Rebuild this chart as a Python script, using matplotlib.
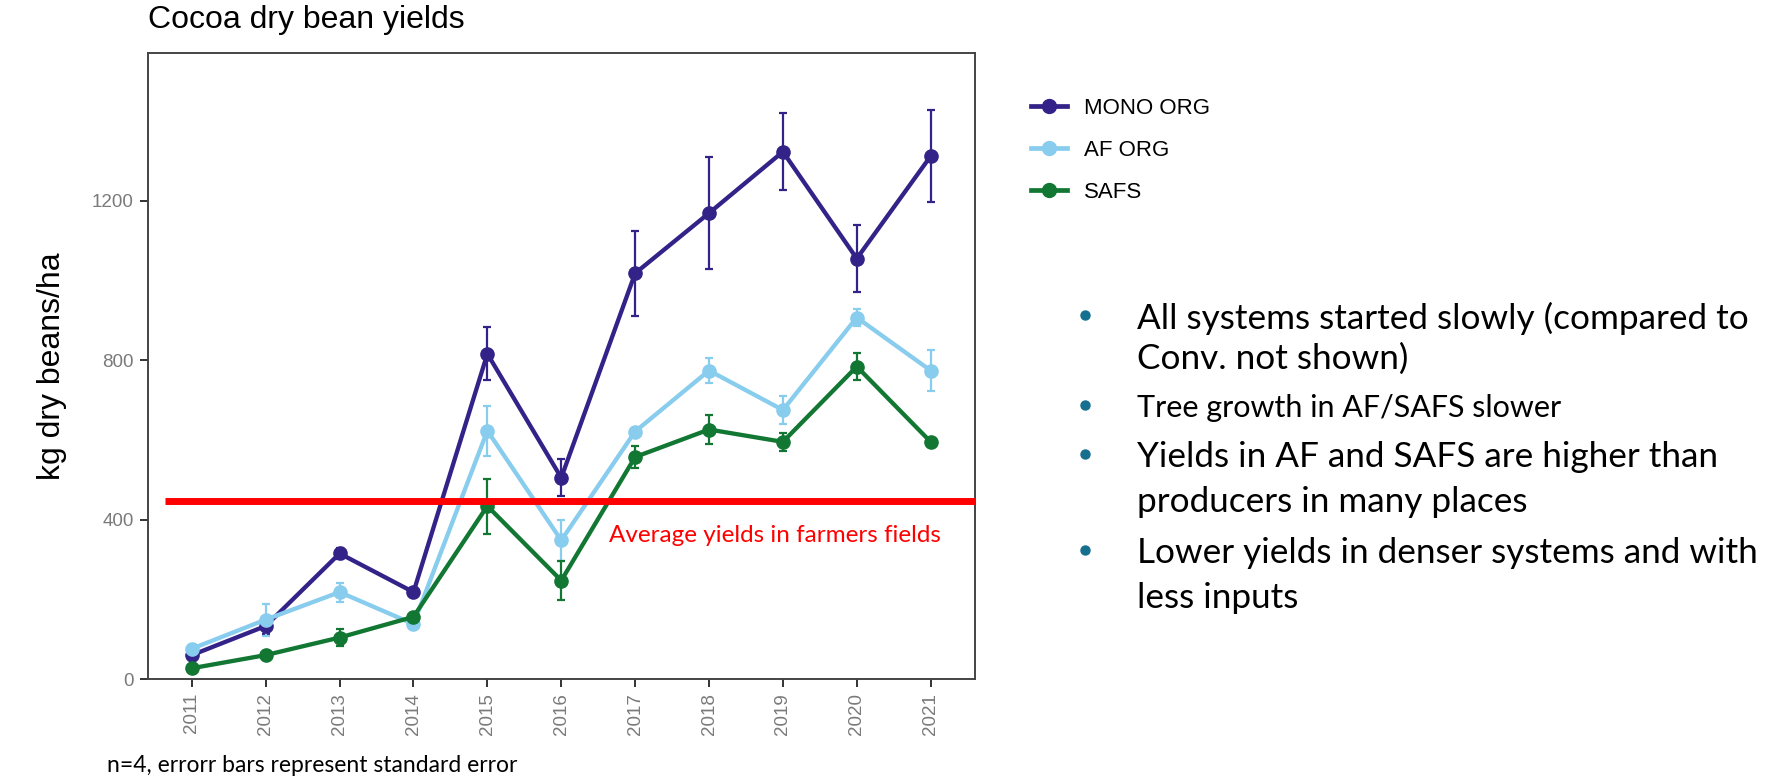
import numpy as np
import matplotlib
matplotlib.use("Agg")
import matplotlib.pyplot as plt
from matplotlib.lines import Line2D

years = np.arange(2011, 2022)

# mean yields (kg dry beans/ha) and standard errors per system
mono_org = [60, 133, 315, 218, 816, 505, 1018, 1169, 1323, 1055, 1312]
mono_se = [10, 20, 13, 10, 67, 47, 107, 140, 96, 84, 115]
af_org = [76, 149, 218, 138, 623, 348, 621, 774, 675, 907, 774]
af_se = [8, 40, 24, 10, 63, 52, 8, 31, 34, 22, 52]
safs = [27, 60, 104, 156, 434, 247, 557, 626, 595, 784, 595]
safs_se = [8, 6, 22, 8, 69, 50, 27, 36, 23, 35, 5]

farmer_avg = 447

series = [
    ("MONO ORG", mono_org, mono_se, "#332288"),
    ("AF ORG", af_org, af_se, "#88CCEE"),
    ("SAFS", safs, safs_se, "#117733"),
]

# each bullet: list of lines, font size
bullets = [
    (["All systems started slowly (compared to", "Conv. not shown)"], 25.3),
    (["Tree growth in AF/SAFS slower"], 22),
    (["Yields in AF and SAFS are higher than", "producers in many places"], 25.3),
    (["Lower yields in denser systems and with", "less inputs"], 25.3),
]
bullet_rows = [[318, 359], [408], [457, 502], [553, 598]]

W, H = 1769, 779
fig = plt.figure(figsize=(W / 100, H / 100), dpi=100)


def fx(x):
    return x / W


def fy(y):
    return 1 - y / H


ax = fig.add_axes([fx(147.5), fy(679), fx(975) - fx(147.5), fy(53.3) - fy(679)])

for name, vals, se, col in series:
    ax.errorbar(years, vals, yerr=se, color=col, lw=3.1, marker="o", ms=9.5,
                elinewidth=1.6, capsize=3, capthick=1.6, label=name, zorder=3)

ax.set_xlim(2011 - 0.6, 2021 + 0.6)
ax.set_ylim(0, 1570)
ax.set_xticks(years)
ax.set_xticklabels([str(y) for y in years], rotation=90)
ax.set_yticks([0, 400, 800, 1200])
ax.tick_params(axis="both", length=6, width=1.4, color="#333333",
               labelcolor="#7a7a7a", labelsize=13.5, pad=4)
for lab in ax.get_xticklabels() + ax.get_yticklabels():
    lab.set_family("Liberation Sans")
for sp in ax.spines.values():
    sp.set_color("#444444")
    sp.set_linewidth(1.4)

ax.set_ylabel("kg dry beans/ha", fontsize=23, family="Liberation Sans", labelpad=18)
fig.text(fx(147.5), fy(20), "Cocoa dry bean yields", fontsize=23,
         family="Liberation Sans", va="center", ha="left")

# farmers' average line drawn across the panel
ax.plot([2010.64, 2021.6], [farmer_avg, farmer_avg], color="#ff0000", lw=5,
        solid_capstyle="butt", clip_on=False, zorder=5)
ax.text(2016.65, 359, "Average yields in farmers fields", color="#ff0000",
        fontsize=17.5, family="Lato", va="center", ha="left")

handles = [Line2D([], [], color=c, lw=3.4, marker="o", ms=10) for _, _, _, c in series]
fig.legend(handles, [s[0] for s in series], loc="upper left",
           bbox_to_anchor=(fx(1011), fy(78)), frameon=False,
           prop={"family": "Liberation Sans", "size": 16},
           handlelength=1.6, handletextpad=0.8, labelspacing=0.95)

# bullet points on the right
for (lines, size), rows in zip(bullets, bullet_rows):
    fig.add_artist(Line2D([fx(1085)], [fy(rows[0] - 3)], marker="o", ms=6.5,
                          color="#15708f", transform=fig.transFigure))
    for txt, y in zip(lines, rows):
        fig.text(fx(1137), fy(y), txt, fontsize=size, family="Lato",
                 va="center", ha="left")

fig.text(fx(107), fy(765), "n=4, errorr bars represent standard error",
         fontsize=16.5, family="Lato", va="center", ha="left")

fig.savefig("out.png", dpi=100)
